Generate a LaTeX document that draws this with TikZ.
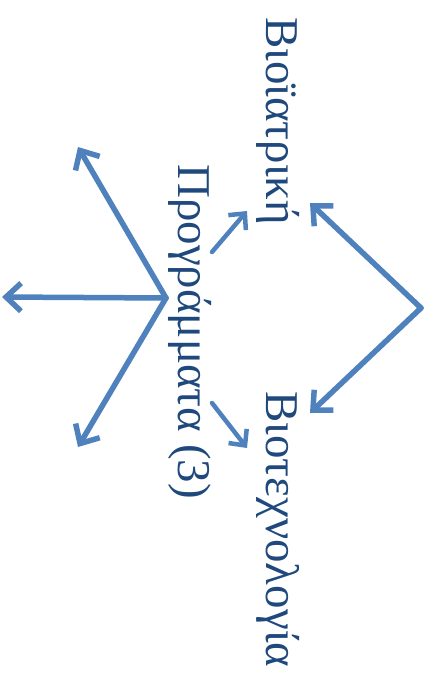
\documentclass[tikz,border=0pt]{standalone}
\usepackage{fontspec}
\setmainfont{Liberation Serif}
\usetikzlibrary{arrows.meta, positioning}
\definecolor{textblue}{RGB}{31, 73, 125}
\definecolor{arrowblue}{RGB}{79, 129, 189}

\begin{document}
\begin{tikzpicture}[
    x=1pt, y=-1pt,
    greektext/.style={rotate=-90, anchor=base west, inner sep=0pt, text=textblue, font=\fontsize{47}{52}\selectfont},
    bigarrow/.style={-{Straight Barb[length=15pt, width=28pt]}, line width=5.5pt, line cap=round, arrowblue},
    smallarrow/.style={-{Straight Barb[length=12pt, width=23pt]}, line width=4.5pt, line cap=round, arrowblue}
]
\useasboundingbox (0,0) rectangle (431,679);

\node[greektext] (bio) at (266,17) {Βιοϊατρική};
\node[greektext] (tech) at (266,391) {Βιοτεχνολογία};
\node[greektext] (prog) at (178,164) {Προγράμματα (3)};

% hubs and free ends of the arrows
\coordinate (hubL) at (166,298);
\coordinate (hubR) at (421,308);
\coordinate (upL) at (78,147);
\coordinate (midL) at (2,297);
\coordinate (lowL) at (78,447);
\coordinate (upR) at (310,203);
\coordinate (lowR) at (310,413);
\coordinate (s1a) at (212,252);
\coordinate (s1b) at (247,211);
\coordinate (s2a) at (212,403);
\coordinate (s2b) at (247,448);

\draw[bigarrow] (hubL) -- (upL);
\draw[bigarrow] (hubL) -- (midL);
\draw[bigarrow] (hubL) -- (lowL);
\draw[bigarrow] (hubR) -- (upR);
\draw[bigarrow] (hubR) -- (lowR);
\draw[smallarrow] (s1a) -- (s1b);
\draw[smallarrow] (s2a) -- (s2b);
\end{tikzpicture}
\end{document}
